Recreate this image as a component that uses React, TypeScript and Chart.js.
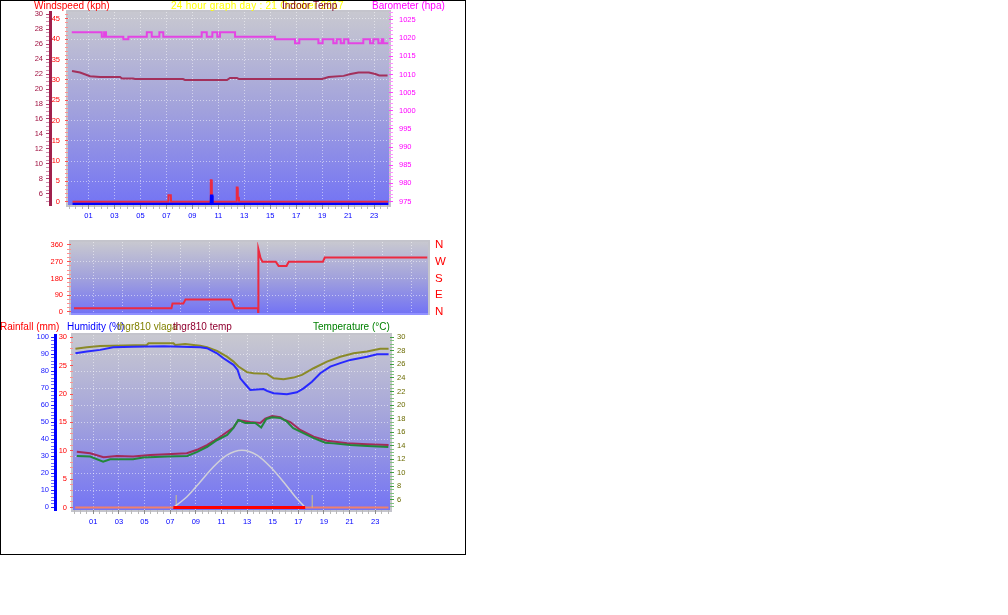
import React, { useEffect, useRef } from 'react';
import { Chart, registerables } from 'chart.js';

Chart.register(...registerables);

const FONT = "'Liberation Sans', Arial, sans-serif";
const GRID_DOT = 'rgba(255,255,255,0.5)';
const CLEAR = 'rgba(0,0,0,0)';

// ---------- hour axis ----------
const HOUR_TICK_VALUES = [1, 3, 5, 7, 9, 11, 13, 15, 17, 19, 21, 23];
const HOUR_TICK_LABELS = ['01', '03', '05', '07', '09', '11', '13', '15', '17', '19', '21', '23'];

// ---------- top panel: barometer, indoor temp, wind ----------
const BARO_HOURS = [-0.29, 2.02, 2.2, 2.35, 3.68, 4.07, 5.49, 5.87, 6.46, 6.76, 9.72, 10.11, 10.54, 10.92, 11.13, 12.29, 15.37, 16.91, 17.24, 18.71, 19.04, 19.86, 20.12, 20.43, 20.69, 21.02, 22.17, 22.69, 22.94, 23.33, 23.59, 23.71, 24.1];
const BARO_HPA = [1021.6, 1020.4, 1021.6, 1020.4, 1019.7, 1020.4, 1021.6, 1020.4, 1021.6, 1020.4, 1021.6, 1020.4, 1021.6, 1020.4, 1021.6, 1020.4, 1019.7, 1018.6, 1019.7, 1018.6, 1019.7, 1018.6, 1019.7, 1018.6, 1019.7, 1018.6, 1019.7, 1018.6, 1019.7, 1018.6, 1019.7, 1018.6, 1018.6];

const INDOOR_HOURS = [-0.27, 0.35, 1.12, 1.89, 3.43, 3.58, 4.43, 4.58, 8.28, 8.43, 11.67, 11.9, 12.44, 12.6, 19.0, 19.5, 20.65, 21.2, 21.8, 22.6, 23.1, 23.4, 24.04];
const INDOOR_TEMP = [22.4, 22.2, 21.7, 21.6, 21.6, 21.4, 21.4, 21.33, 21.33, 21.2, 21.2, 21.47, 21.47, 21.33, 21.33, 21.6, 21.75, 22.0, 22.2, 22.2, 22.0, 21.8, 21.8];

const GUST_HOURS = [-0.23, 7.14, 7.16, 7.34, 7.36, 10.4, 10.42, 10.48, 10.5, 12.4, 12.42, 12.48, 12.5, 12.58, 12.6, 24.08];
const GUST_KPH = [0, 0, 1.6, 1.6, 0, 0, 5.3, 5.3, 0, 0, 3.5, 3.5, 1.0, 1.0, 0, 0];

const AVG_HOURS = [-0.23, 10.43, 10.45, 10.53, 10.55, 24.08];
const AVG_KPH = [0, 0, 2.0, 2.0, 0, 0];

const INDOOR_LABEL_VALUES = [6, 8, 10, 12, 14, 16, 18, 20, 22, 24, 26, 28, 30];
const INDOOR_LABELS = ['6', '8', '10', '12', '14', '16', '18', '20', '22', '24', '26', '28', '30'];
const WIND_LABEL_VALUES = [0, 5, 10, 15, 20, 25, 30, 35, 40, 45];
const WIND_LABELS = ['0', '5', '10', '15', '20', '25', '30', '35', '40', '45'];
const BARO_LABEL_VALUES = [975, 980, 985, 990, 995, 1000, 1005, 1010, 1015, 1020, 1025];
const BARO_LABELS = ['975', '980', '985', '990', '995', '1000', '1005', '1010', '1015', '1020', '1025'];

// ---------- middle panel: wind direction ----------
const DIR_HOURS = [-0.37, 6.38, 6.45, 7.2, 7.35, 10.5, 10.78, 12.37, 12.38, 12.4, 12.55, 12.68, 13.6, 13.8, 14.35, 14.5, 16.87, 17.0, 24.1];
const DIR_DEG = [20, 20, 45, 45, 67.5, 67.5, 20, 20, 0, 338, 290, 270, 270, 247.5, 247.5, 270, 270, 292.5, 292.5];
const DIR_LABEL_VALUES = [0, 90, 180, 270, 360];
const DIR_LABELS = ['0', '90', '180', '270', '360'];
const COMPASS_LABELS = ['N', 'E', 'S', 'W', 'N'];

// ---------- bottom panel ----------
const HUM_HOURS = [-0.39, 0.5, 1.54, 2.55, 4.11, 6.5, 9.34, 9.87, 10.65, 11.16, 11.94, 12.26, 12.47, 12.86, 13.25, 14.29, 14.55, 15.07, 16.11, 16.89, 17.41, 18.06, 18.71, 19.49, 20.27, 21.05, 22.36, 23.14, 24.04];
const HUM_PCT = [90.6, 91.6, 92.6, 94.2, 94.5, 94.8, 94.2, 93.6, 90.6, 87.7, 83.8, 80.8, 75.9, 72.4, 69, 69.6, 68.5, 67.1, 66.5, 67.7, 70, 73.9, 78.9, 82.8, 84.8, 86.7, 88.6, 90, 90];

const VLAGA_HOURS = [-0.39, 0.5, 1.54, 5.18, 5.31, 7.26, 7.39, 8.17, 9.34, 9.87, 10.65, 11.43, 11.94, 12.33, 12.99, 13.5, 14.55, 15.07, 15.85, 16.63, 17.28, 18.19, 19.23, 20.27, 21.31, 22.36, 23.39, 24.04];
const VLAGA_PCT = [93.2, 94.2, 94.9, 95.5, 96.5, 96.5, 95.5, 96, 95.1, 94.2, 92, 88.6, 85.7, 82.8, 79.5, 78.9, 78.5, 75.9, 75.4, 76.3, 77.9, 81.8, 85.7, 88.6, 90.6, 91.6, 93.2, 93.2];

const TEMP_HOURS = [-0.28, 0.76, 1.77, 2.32, 4.11, 4.89, 6.77, 8.33, 9.11, 9.89, 10.67, 11.45, 11.92, 12.31, 12.86, 13.64, 14.1, 14.5, 14.96, 15.59, 16.06, 16.6, 18.16, 19.1, 19.73, 21.05, 22.38, 24.02];
const TEMP_C = [12.5, 12.4, 11.65, 12.0, 12.0, 12.25, 12.4, 12.5, 13.1, 13.85, 14.85, 15.6, 16.6, 17.8, 17.36, 17.36, 16.7, 17.95, 18.2, 18.1, 17.65, 16.6, 15.15, 14.45, 14.35, 14.1, 13.95, 13.8];

const THGR_HOURS = [-0.28, 0.76, 1.8, 2.84, 4.11, 5.44, 6.74, 8.3, 9.09, 9.87, 10.65, 11.94, 12.33, 13.25, 14.03, 14.42, 14.96, 15.59, 15.85, 16.37, 17.15, 18.19, 19.23, 20.8, 22.36, 24.04];
const THGR_C = [13.1, 12.9, 12.3, 12.5, 12.4, 12.65, 12.75, 12.9, 13.4, 14.1, 15.0, 16.7, 17.8, 17.5, 17.35, 18.0, 18.4, 18.2, 17.9, 17.5, 16.33, 15.34, 14.75, 14.37, 14.22, 14.1];

const SUN_HOURS = [7.24, 8.31, 9.34, 10.38, 11.43, 12.6, 13.77, 14.81, 15.85, 16.76, 17.54];
const SUN_VALUES = [0, 1.9, 4.5, 7.2, 9.25, 10.1, 9.25, 7.2, 4.5, 1.9, 0];

const SUNRISE_HOURS = [7.47, 7.47];
const SUNSET_HOURS = [18.08, 18.08];
const SUN_MARK_VALUES = [0, 2.2];

const RAIN_HOURS = [-0.41, 24.03];
const RAIN_MM = [0, 0];
const RAIN_DAY_HOURS = [7.24, 17.54];
const RAIN_DAY_MM = [0, 0];

const HUM_LABEL_VALUES = [0, 10, 20, 30, 40, 50, 60, 70, 80, 90, 100];
const HUM_LABELS = ['0', '10', '20', '30', '40', '50', '60', '70', '80', '90', '100'];
const RAIN_LABEL_VALUES = [0, 5, 10, 15, 20, 25, 30];
const RAIN_LABELS = ['0', '5', '10', '15', '20', '25', '30'];
const TEMP_LABEL_VALUES = [6, 8, 10, 12, 14, 16, 18, 20, 22, 24, 26, 28, 30];
const TEMP_LABELS = ['6', '8', '10', '12', '14', '16', '18', '20', '22', '24', '26', '28', '30'];

// ---------- helpers ----------
const X_MIN = -0.58;
const X_MAX = 24.15;

const near = (a: number, b: number) => Math.abs(a - b) < 1e-6;
const seq = (from: number, to: number, step: number) => {
  const out: number[] = [];
  for (let i = 0; from + i * step <= to + 1e-9; i++) out.push(+(from + i * step).toFixed(4));
  return out;
};
const pts = (xs: number[], ys: number[]) => xs.map((x, i) => ({ x, y: ys[i] }));
const labeller = (values: number[], labels: string[]) => (v: any) => {
  const i = values.findIndex((t) => near(t, Number(v)));
  return i >= 0 ? labels[i] : '';
};
const HALF_HOURS = seq(-0.5, 24, 0.5);

interface AxisSpec {
  position: 'left' | 'right';
  weight?: number;
  min: number;
  max: number;
  width: number;
  ticks: number[];
  labelValues: number[];
  labels: string[];
  color: string;
  tickColor: string;
  majorTickColor?: string;
  tickLength: number;
  padding: number;
  fontSize?: number;
  lineHeight?: number;
  gridValues?: number[];
  border?: { color: string; width: number };
}

function yAxis(s: AxisSpec) {
  return {
    type: 'linear',
    position: s.position,
    weight: s.weight ?? 0,
    min: s.min,
    max: s.max,
    afterBuildTicks: (sc: any) => {
      sc.ticks = s.ticks.map((value) => ({ value }));
    },
    afterFit: (sc: any) => {
      sc.width = s.width;
    },
    ticks: {
      autoSkip: false,
      padding: s.padding,
      color: s.color,
      font: { family: FONT, size: s.fontSize ?? 7.5, lineHeight: s.lineHeight ?? 1.2 },
      callback: labeller(s.labelValues, s.labels),
    },
    grid: {
      drawOnChartArea: !!s.gridValues,
      drawTicks: s.tickLength > 0,
      tickLength: s.tickLength,
      lineWidth: 1,
      tickWidth: 1,
      color: (c: any) =>
        s.gridValues && c.tick && s.gridValues.some((g) => near(g, c.tick.value)) ? GRID_DOT : CLEAR,
      tickColor: (c: any) =>
        c.tick && s.labelValues.some((g) => near(g, c.tick.value)) ? s.majorTickColor ?? s.tickColor : s.tickColor,
    },
    border: {
      display: !!s.border,
      color: s.border ? s.border.color : CLEAR,
      width: s.border ? s.border.width : 1,
      dash: [1, 2],
    },
  };
}

function xAxis(height: number, showLabels: boolean, padding: number) {
  return {
    type: 'linear',
    position: 'bottom',
    min: X_MIN,
    max: X_MAX,
    afterBuildTicks: (sc: any) => {
      sc.ticks = HALF_HOURS.map((value) => ({ value }));
    },
    afterFit: (sc: any) => {
      sc.height = height;
    },
    ticks: {
      display: showLabels,
      autoSkip: false,
      maxRotation: 0,
      minRotation: 0,
      padding,
      color: '#0000ff',
      font: { family: FONT, size: 7.5 },
      callback: labeller(HOUR_TICK_VALUES, HOUR_TICK_LABELS),
    },
    grid: {
      drawTicks: showLabels,
      tickLength: 4,
      lineWidth: 1,
      color: (c: any) => (c.tick && HOUR_TICK_VALUES.some((h) => near(h, c.tick.value)) ? GRID_DOT : CLEAR),
      tickColor: (c: any) => (c.tick && HOUR_TICK_VALUES.some((h) => near(h, c.tick.value)) ? '#8c8c8c' : '#b8b8b8'),
    },
    border: { display: false, dash: [1, 2] },
  };
}

const panelBackground = {
  id: 'panelBackground',
  beforeDraw(chart: any, _args: any, opts: any) {
    const { ctx, chartArea: a } = chart;
    const g = ctx.createLinearGradient(0, a.top, 0, a.bottom);
    g.addColorStop(0, '#c8c8d0');
    g.addColorStop(0.5, '#a2a2dc');
    g.addColorStop(1, '#7474f4');
    ctx.save();
    ctx.fillStyle = g;
    ctx.fillRect(a.left, a.top, a.right - a.left, a.bottom - a.top);
    ctx.strokeStyle = '#c4c4cc';
    ctx.lineWidth = 2;
    ctx.strokeRect(a.left - 1, a.top - 1, a.right - a.left + 2, a.bottom - a.top + 2);
    if (opts && opts.baseLine) {
      ctx.strokeStyle = opts.baseLine;
      ctx.lineWidth = 2;
      ctx.beginPath();
      ctx.moveTo(a.left, a.bottom + 1);
      ctx.lineTo(a.right, a.bottom + 1);
      ctx.stroke();
    }
    ctx.restore();
  },
};

const line = (data: any[], axis: string, color: string, width: number, extra: any = {}) => ({
  data,
  yAxisID: axis,
  borderColor: color,
  backgroundColor: color,
  borderWidth: width,
  pointRadius: 0,
  fill: false,
  ...extra,
});

const baseOptions = (padding: any, scales: any, plugin: any = {}) => ({
  animation: false,
  responsive: false,
  maintainAspectRatio: false,
  events: [],
  layout: { padding },
  plugins: { legend: { display: false }, tooltip: { enabled: false }, panelBackground: plugin },
  scales,
});

function topConfig(): any {
  return {
    type: 'line',
    data: {
      datasets: [
        line(pts(AVG_HOURS, AVG_KPH), 'yWindAvg', '#0000ff', 2.5),
        line(pts(GUST_HOURS, GUST_KPH), 'yWind', '#ec2a40', 2),
        line(pts(INDOOR_HOURS, INDOOR_TEMP), 'yIndoor', '#a3305c', 2),
        line(pts(BARO_HOURS, BARO_HPA), 'yBaro', '#e444e4', 2, { stepped: true }),
      ],
    },
    options: baseOptions({ top: 12, left: 0, right: 0, bottom: 0 }, {
      x: xAxis(25, true, 2),
      yIndoor: yAxis({
        position: 'left', weight: 2, min: 4.53, max: 30.27, width: 50,
        ticks: seq(5, 30, 0.5), labelValues: INDOOR_LABEL_VALUES, labels: INDOOR_LABELS,
        color: '#a01040', tickColor: '#d090b0', majorTickColor: '#b04070', tickLength: 4, padding: 3,
        border: { color: '#a0204c', width: 3 },
      }),
      yWind: yAxis({
        position: 'left', weight: 1, min: -0.81, max: 46.7, width: 18,
        ticks: seq(0, 46, 1), labelValues: WIND_LABEL_VALUES, labels: WIND_LABELS,
        color: '#ff0000', tickColor: '#ff9090', majorTickColor: '#ff5050', tickLength: 3, padding: 5,
        gridValues: WIND_LABEL_VALUES.filter((v) => v > 0),
      }),
      yWindAvg: { type: 'linear', display: false, min: -0.25, max: 47.3 },
      yBaro: yAxis({
        position: 'right', min: 974.04, max: 1027.2, width: 77,
        ticks: seq(975, 1027, 1), labelValues: BARO_LABEL_VALUES, labels: BARO_LABELS,
        color: '#ff00ff', tickColor: '#ff90ff', majorTickColor: '#ff40ff', tickLength: 4, padding: 6,
      }),
    }),
    plugins: [panelBackground],
  };
}

function midConfig(): any {
  return {
    type: 'line',
    data: {
      datasets: [line(pts(DIR_HOURS, DIR_DEG), 'yDir', '#ec2a40', 2)],
    },
    options: baseOptions({ top: 12, left: 0, right: 0, bottom: 9 }, {
      x: xAxis(0, false, 0),
      yDir: yAxis({
        position: 'left', min: -5.4, max: 376, width: 71,
        ticks: seq(0, 360, 22.5), labelValues: DIR_LABEL_VALUES, labels: DIR_LABELS,
        color: '#ff0000', tickColor: '#ff9090', majorTickColor: '#ff5050', tickLength: 4, padding: 4,
        lineHeight: 0.5,
        gridValues: [90, 180, 270],
      }),
      yCompass: yAxis({
        position: 'right', min: -5.4, max: 376, width: 38,
        ticks: DIR_LABEL_VALUES, labelValues: DIR_LABEL_VALUES, labels: COMPASS_LABELS,
        color: '#ff0000', tickColor: CLEAR, tickLength: 0, padding: 7, fontSize: 11.5, lineHeight: 0.2,
      }),
    }, { baseLine: '#9090ff' }),
    plugins: [panelBackground],
  };
}

function botConfig(): any {
  return {
    type: 'line',
    data: {
      datasets: [
        line(pts(RAIN_DAY_HOURS, RAIN_DAY_MM), 'yRain', '#ff0000', 3),
        line(pts(HUM_HOURS, HUM_PCT), 'yHum', '#2828ff', 2),
        line(pts(VLAGA_HOURS, VLAGA_PCT), 'yHum', '#8a8a28', 2),
        line(pts(TEMP_HOURS, TEMP_C), 'yTemp', '#22883a', 2),
        line(pts(THGR_HOURS, THGR_C), 'yTemp', '#a22a5a', 2),
        line(pts(SUN_HOURS, SUN_VALUES), 'yRain', '#d0d0d8', 1.5, { cubicInterpolationMode: 'monotone' }),
        line(pts(SUNRISE_HOURS, SUN_MARK_VALUES), 'yRain', '#d0c488', 1),
        line(pts(SUNSET_HOURS, SUN_MARK_VALUES), 'yRain', '#d0c488', 1),
        line(pts(RAIN_HOURS, RAIN_MM), 'yRain', '#f0806c', 2),
      ],
    },
    options: baseOptions({ top: 15, left: 0, right: 0, bottom: 0 }, {
      x: xAxis(25, true, 3),
      yHum: yAxis({
        position: 'left', weight: 2, min: -1.53, max: 101.35, width: 55,
        ticks: seq(0, 100, 2), labelValues: HUM_LABEL_VALUES, labels: HUM_LABELS,
        color: '#2020ff', tickColor: '#6a6aff', majorTickColor: '#2020ff', tickLength: 4, padding: 2,
        gridValues: HUM_LABEL_VALUES.filter((v) => v > 0 && v < 100),
        border: { color: '#0000ff', width: 3 },
      }),
      yRain: yAxis({
        position: 'left', weight: 1, min: -0.44, max: 30.41, width: 18,
        ticks: seq(0, 30, 1), labelValues: RAIN_LABEL_VALUES, labels: RAIN_LABELS,
        color: '#ff0000', tickColor: '#ff9090', majorTickColor: '#ff5050', tickLength: 3, padding: 3,
      }),
      yTemp: yAxis({
        position: 'right', min: 4.52, max: 30.34, width: 76,
        ticks: seq(5, 30, 0.5), labelValues: TEMP_LABEL_VALUES, labels: TEMP_LABELS,
        color: '#6b6b00', tickColor: '#80c080', majorTickColor: '#40a040', tickLength: 4, padding: 3,
      }),
    }),
    plugins: [panelBackground],
  };
}

const TOP_TITLES = [
  { text: 'Windspeed (kph)', color: '#ff0000', left: 34, spacing: 0 },
  { text: '24 hour graph day : 21 October 2017', color: '#ffff00', left: 171, spacing: 0.25 },
  { text: 'Indoor Temp', color: '#800020', left: 282, spacing: 0 },
  { text: 'Barometer (hpa)', color: '#ff00ff', left: 372, spacing: 0 },
];
const BOTTOM_TITLES = [
  { text: 'Rainfall (mm)', color: '#ff0000', left: 0, spacing: 0 },
  { text: 'Humidity (%)', color: '#0000ff', left: 67, spacing: 0 },
  { text: 'thgr810 vlaga', color: '#808000', left: 117, spacing: 0 },
  { text: 'thgr810 temp', color: '#900030', left: 173, spacing: 0 },
  { text: 'Temperature (°C)', color: '#008000', left: 313, spacing: 0 },
];

export default function App() {
  const topRef = useRef<HTMLCanvasElement>(null);
  const midRef = useRef<HTMLCanvasElement>(null);
  const botRef = useRef<HTMLCanvasElement>(null);

  useEffect(() => {
    const charts = [
      new Chart(topRef.current as HTMLCanvasElement, topConfig()),
      new Chart(midRef.current as HTMLCanvasElement, midConfig()),
      new Chart(botRef.current as HTMLCanvasElement, botConfig()),
    ];
    return () => charts.forEach((c) => c.destroy());
  }, []);

  const titleStyle = (top: number, left: number, color: string, spacing: number): React.CSSProperties => ({
    position: 'absolute',
    top,
    left,
    color,
    fontFamily: FONT,
    fontSize: 10,
    lineHeight: '10px',
    letterSpacing: spacing,
    whiteSpace: 'nowrap',
  });

  return (
    <div style={{ position: 'fixed', left: 0, top: 0, width: 1008, height: 615, background: '#ffffff', overflow: 'hidden' }}>
      <canvas ref={topRef} width={466} height={230} style={{ position: 'absolute', left: 0, top: 0, width: 466, height: 230 }} />
      <canvas ref={midRef} width={466} height={92} style={{ position: 'absolute', left: 0, top: 230, width: 466, height: 92 }} />
      <canvas ref={botRef} width={466} height={215} style={{ position: 'absolute', left: 0, top: 320, width: 466, height: 215 }} />
      {TOP_TITLES.map((t) => (
        <span key={t.text} style={titleStyle(1, t.left, t.color, t.spacing)}>{t.text}</span>
      ))}
      {BOTTOM_TITLES.map((t) => (
        <span key={t.text} style={titleStyle(322, t.left, t.color, t.spacing)}>{t.text}</span>
      ))}
      <div
        style={{
          position: 'absolute', left: 0, top: 0, width: 466, height: 555,
          border: '1px solid #000', boxSizing: 'border-box', pointerEvents: 'none',
        }}
      />
    </div>
  );
}
